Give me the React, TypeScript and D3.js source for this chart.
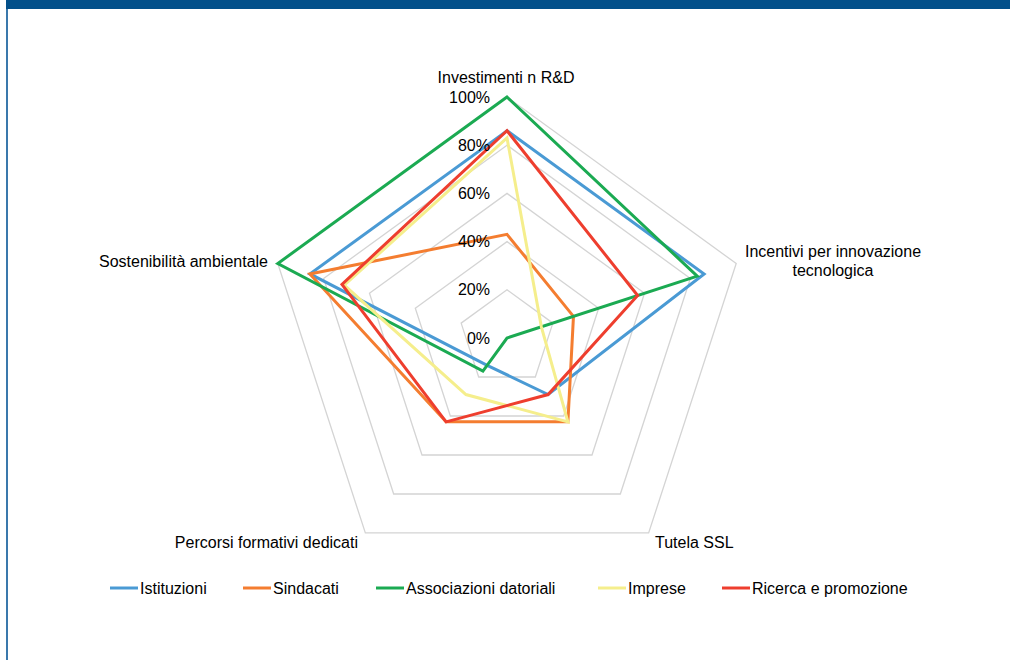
import React from "react";
import * as d3 from "d3";

const axes = ["Investimenti n R&D", "Incentivi per innovazione tecnologica", "Tutela SSL", "Percorsi formativi dedicati", "Sostenibilità ambientale"];
const seriesNames = ["Istituzioni", "Sindacati", "Associazioni datoriali", "Imprese", "Ricerca e promozione"];
const istituzioni = [0.86, 0.86, 0.29, 0.14, 0.86];
const sindacati = [0.43, 0.29, 0.43, 0.43, 0.86];
const associazioni = [1.0, 0.83, 0.0, 0.17, 1.0];
const imprese = [0.83, 0.15, 0.43, 0.29, 0.71];
const ricerca = [0.86, 0.57, 0.29, 0.43, 0.72];
const ticks = [0, 0.2, 0.4, 0.6, 0.8, 1.0];
const colors = ["#4A9AD4", "#F47D30", "#1BAA52", "#F5EE8C", "#EE3E2E"];

const W = 1010, H = 660;
const cx = 507, cy = 338, R = 241;

export default function App() {
  const data = [istituzioni, sindacati, associazioni, imprese, ricerca];
  const r = d3.scaleLinear().domain([0, 1]).range([0, R]);
  const ang = (i: number) => (i * 2 * Math.PI) / axes.length;
  const line = d3.lineRadial<number>()
    .angle((_, i) => ang(i))
    .radius((d) => r(d))
    .curve(d3.curveLinearClosed);
  const grid = ticks.filter((t) => t > 0);
  const fmt = d3.format(".0%");
  const font = "'Liberation Sans', Arial, sans-serif";
  const legendX = [110, 243, 376, 598, 722];
  const fs = 16;

  return (
    <svg width={W} height={H} style={{ position: "fixed", top: 0, left: 0, background: "#fff" }} fontFamily={font}>
      <rect x={6} y={0} width={W - 6} height={9} fill="#03508A" />
      <rect x={6} y={9} width={2} height={H - 9} fill="#3A78AC" />
      <g transform={`translate(${cx},${cy})`}>
        {grid.map((t) => (
          <path key={t} d={line(axes.map(() => t)) || ""} fill="none" stroke="#D4D4D4" strokeWidth={1.3} />
        ))}
        {data.map((s, k) => (
          <path key={k} d={line(s) || ""} fill="none" stroke={colors[k]} strokeWidth={3} strokeLinejoin="miter" />
        ))}
        {ticks.map((t) => (
          <text key={t} x={-17} y={-r(t)} textAnchor="end" dominantBaseline="central" fontSize={fs} fill="#000">
            {fmt(t)}
          </text>
        ))}
      </g>
      <text x={506} y={83} textAnchor="middle" fontSize={fs}>{axes[0]}</text>
      <text x={833} y={257} textAnchor="middle" fontSize={fs}>
        <tspan x={833}>Incentivi per innovazione</tspan>
        <tspan x={833} dy={19}>tecnologica</tspan>
      </text>
      <text x={655} y={548} textAnchor="start" fontSize={fs}>{axes[2]}</text>
      <text x={358} y={548} textAnchor="end" fontSize={fs}>{axes[3]}</text>
      <text x={268} y={267} textAnchor="end" fontSize={fs}>{axes[4]}</text>
      {seriesNames.map((n, k) => (
        <g key={n} transform={`translate(${legendX[k]},588)`}>
          <line x1={0} x2={28} y1={0} y2={0} stroke={colors[k]} strokeWidth={3} />
          <text x={30} y={0} dominantBaseline="central" fontSize={fs}>{n}</text>
        </g>
      ))}
    </svg>
  );
}
